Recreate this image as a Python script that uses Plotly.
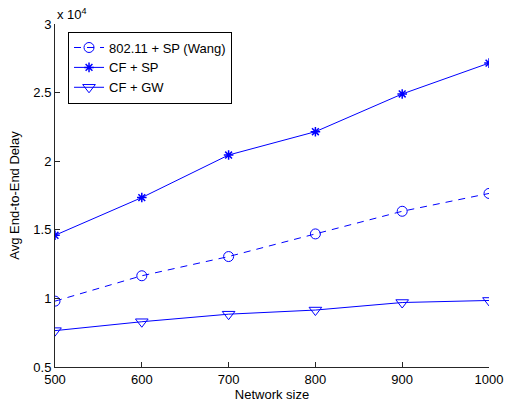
import plotly.graph_objects as go

# Network sizes on the x axis
network_size = [500, 600, 700, 800, 900, 1000]

# Average end-to-end delay for each scheme
delay_wang = [9800, 11650, 13050, 14700, 16350, 17650]
delay_cf_sp = [14600, 17350, 20450, 22150, 24900, 27150]
delay_cf_gw = [7650, 8300, 8850, 9150, 9700, 9850]

# Y tick positions and their labels (scaled by 10^4)
y_tick_vals = [5000, 10000, 15000, 20000, 25000, 30000]
y_tick_text = ["0.5", "1", "1.5", "2", "2.5", "3"]
x_tick_vals = [500, 600, 700, 800, 900, 1000]

blue = "rgb(0,0,255)"
font = dict(family="Liberation Sans, Arial, sans-serif", size=13, color="black")

fig = go.Figure()
fig.add_trace(go.Scatter(
    x=network_size, y=delay_wang, name="802.11 + SP (Wang)",
    mode="lines+markers",
    line=dict(color=blue, width=1, dash="7px,6px"),
    marker=dict(symbol="circle-open", size=10, color=blue, line=dict(width=1, color=blue)),
))
fig.add_trace(go.Scatter(
    x=network_size, y=delay_cf_sp, name="CF + SP",
    mode="lines+markers",
    line=dict(color=blue, width=1),
    marker=dict(symbol="asterisk-open", size=8, color=blue, line=dict(width=1.5, color=blue)),
))
fig.add_trace(go.Scatter(
    x=network_size, y=delay_cf_gw, name="CF + GW",
    mode="lines+markers",
    line=dict(color=blue, width=1),
    marker=dict(symbol="triangle-down-open", size=11, color=blue, line=dict(width=1, color=blue)),
))

axis_color = "#262626"
fig.update_layout(
    width=510, height=405,
    margin=dict(l=55, r=21, t=24, b=38, autoexpand=False),
    paper_bgcolor="white", plot_bgcolor="white",
    font=font,
    showlegend=True,
    legend=dict(
        x=0.03, y=0.978, xanchor="left", yanchor="top",
        bgcolor="white", bordercolor="black", borderwidth=1,
        font=font, tracegroupgap=0,
    ),
    xaxis=dict(
        range=[500, 1000], tickvals=x_tick_vals, automargin=False,
        ticks="inside", ticklen=5, tickcolor=axis_color,
        showline=True, linecolor=axis_color, linewidth=1,
        showgrid=False, zeroline=False,
        title=dict(text="Network size", font=font, standoff=2),
    ),
    yaxis=dict(
        range=[5000, 30000], tickvals=y_tick_vals, ticktext=y_tick_text, automargin=False,
        ticks="inside", ticklen=5, tickcolor=axis_color,
        showline=True, linecolor=axis_color, linewidth=1,
        showgrid=False, zeroline=False,
        title=dict(text="Avg End-to-End Delay", font=font, standoff=10),
    ),
    annotations=[dict(
        text="x 10<sup>4</sup>", xref="paper", yref="paper",
        x=0.0, y=1.0, xanchor="left", yanchor="bottom",
        showarrow=False, font=font,
    )],
)

fig.write_html("out.html")
